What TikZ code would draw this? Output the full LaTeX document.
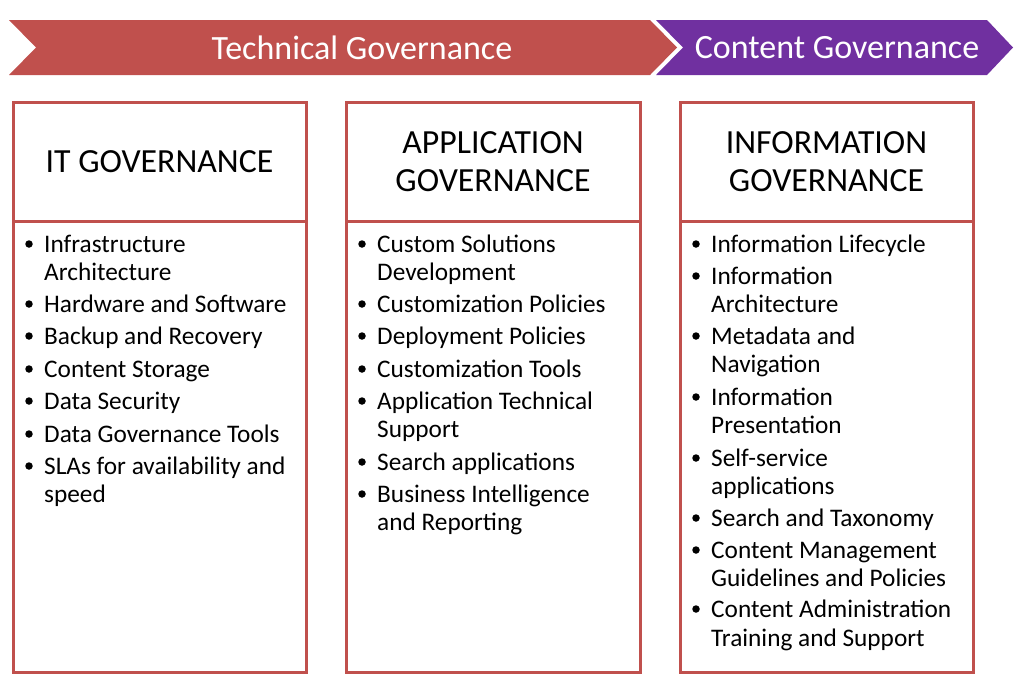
\documentclass[tikz,border=0pt]{standalone}
\usepackage{fontspec}
\setmainfont{Carlito}
\definecolor{cred}{HTML}{C0504D}
\definecolor{cpur}{HTML}{7030A0}
\definecolor{cbox}{HTML}{C0504D}
\begin{document}
\begin{tikzpicture}[x=1pt,y=-1pt,
  banner/.style={text=white,inner sep=0pt,font=\fontsize{34}{38}\selectfont},
  hdr/.style={draw=cbox,line width=3pt,minimum height=119pt,align=center,font=\fontsize{33.8}{38}\selectfont,inner sep=0pt},
  bodyb/.style={draw=cbox,line width=3pt,minimum height=451pt,inner sep=0pt},
  itm/.style={anchor=base west,inner sep=0pt,font=\fontsize{25.3}{28}\selectfont},
  bul/.style={circle,fill=black,inner sep=0pt,minimum size=7.5pt}]
\useasboundingbox (0,0) rectangle (1024,681);
% banners
\fill[cred] (9,20) -- (650,20) -- (677,47.5) -- (650,75) -- (9,75) -- (36,47.5) -- cycle;
\fill[cpur] (656,20) -- (987,20) -- (1013,47.5) -- (987,75) -- (656,75) -- (683,47.5) -- cycle;
\node[banner] (tg) at (362,47.5) {Technical Governance};
\node[banner] (cg) at (837,47.5) {Content Governance};
% boxes
\node[bodyb,minimum width=293pt] (b1) at (159.5,446.5) {};
\node[hdr,minimum width=293pt] (h1) at (159.5,161.5) {IT GOVERNANCE};
\node[bodyb,minimum width=294pt] (b2) at (493,446.5) {};
\node[hdr,minimum width=294pt] (h2) at (493,161.5) {APPLICATION\\GOVERNANCE};
\node[bodyb,minimum width=293pt] (b3) at (826.5,446.5) {};
\node[hdr,minimum width=293pt] (h3) at (826.5,161.5) {INFORMATION\\GOVERNANCE};
% items box 1
\foreach \yy/\txt/\flag [count=\k] in {252/Infrastructure/1,280/Architecture/0,312/Hardware and Software/1,344/Backup and Recovery/1,377/Content Storage/1,409/Data Security/1,442/Data Governance Tools/1,474/SLAs for availability and/1,502/speed/0}{
  \node[itm] (pa\k) at (44,\yy) {\txt};
  \ifnum\flag=1 \node[bul] (qa\k) at (29,\yy-8) {};\fi
}
% items box 2
\foreach \yy/\txt/\flag [count=\k] in {252/Custom Solutions/1,280/Development/0,312/Customization Policies/1,344/Deployment Policies/1,377/Customization Tools/1,409/Application Technical/1,437/Support/0,470/Search applications/1,502/Business Intelligence/1,530/and Reporting/0}{
  \node[itm] (pb\k) at (377,\yy) {\txt};
  \ifnum\flag=1 \node[bul] (qb\k) at (362,\yy-8) {};\fi
}
% items box 3
\foreach \yy/\txt/\flag [count=\k] in {252/Information Lifecycle/1,284/Information/1,312/Architecture/0,344/Metadata and/1,372/Navigation/0,405/Information/1,433/Presentation/0,466/Self-service/1,494/applications/0,526/Search and Taxonomy/1,558/Content Management/1,586/Guidelines and Policies/0,617/Content Administration/1,646/Training and Support/0}{
  \node[itm] (pc\k) at (711,\yy) {\txt};
  \ifnum\flag=1 \node[bul] (qc\k) at (696,\yy-8) {};\fi
}
\end{tikzpicture}
\end{document}
